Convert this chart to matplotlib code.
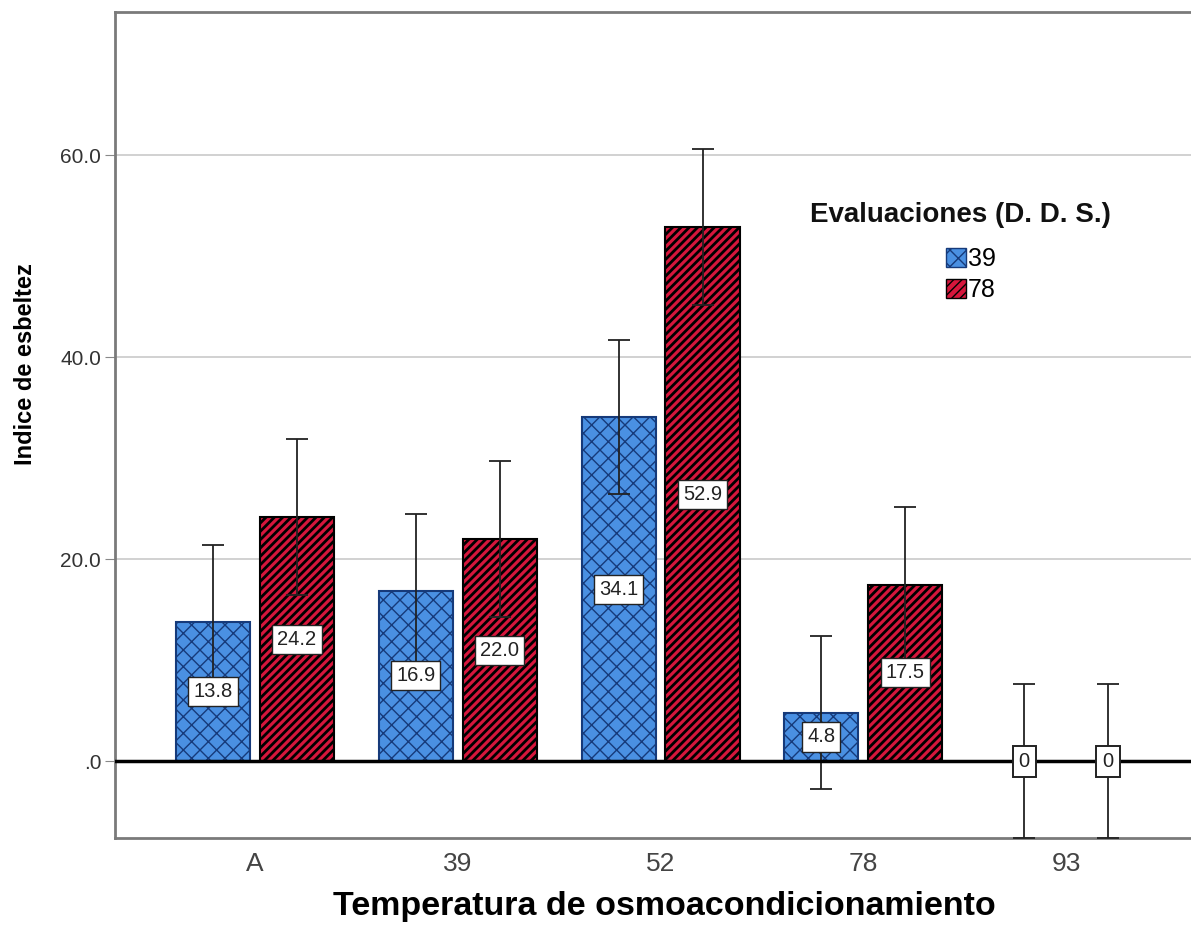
import matplotlib
matplotlib.use("Agg")
import matplotlib.pyplot as plt
import numpy as np
from matplotlib.patches import Patch

plt.rcParams['font.family'] = ['Liberation Sans', 'DejaVu Sans']

categories = ["A", "39", "52", "78", "93"]
series_names = ["39", "78"]
vals_39 = [13.8, 16.9, 34.1, 4.8, 0.0]
vals_78 = [24.2, 22.0, 52.9, 17.5, 0.0]
err_39 = [7.6, 7.6, 7.6, 7.6, 7.6]
err_78 = [7.7, 7.7, 7.7, 7.7, 7.6]
labels_39 = ["13.8", "16.9", "34.1", "4.8", "0"]
labels_78 = ["24.2", "22.0", "52.9", "17.5", "0"]
yticks = [0, 20, 40, 60]
ytick_labels = [".0", "20.0", "40.0", "60.0"]

fig = plt.figure(figsize=(11.91, 9.39), dpi=100)
ax = fig.add_axes([0.0966, 0.1076, 0.9034, 0.8796])

x = np.arange(len(categories))
w = 0.365
off = 0.207

blue_face = '#4A90E2'
blue_edge = '#163A7A'
red_face = '#D6163C'
red_edge = '#000000'
styles = [
    (vals_39, err_39, labels_39, -1, blue_face, blue_edge, 'xx', 1.0),
    (vals_78, err_78, labels_78, 1, red_face, red_edge, '////', 2.0),
]

ax.set_ylim(-7.6, 74.2)
ax.set_xlim(-0.69, 4.616)

for y in yticks[1:]:
    ax.axhline(y, color='#CACACA', lw=1.2, zorder=0)

for i in range(len(categories)):
    for vals, errs, labs, sign, fc, ec, hatch, hlw in styles:
        xi = x[i] + sign * off
        v = vals[i]
        if v > 0:
            with plt.rc_context({'hatch.linewidth': hlw}):
                ax.bar(xi, v, width=w, color=fc, edgecolor=ec, hatch=hatch, lw=1.5, zorder=2)
            ax.errorbar(xi, v, yerr=errs[i], fmt='none', ecolor='#222222', elinewidth=1.3,
                        capsize=8, capthick=1.3, zorder=3)
            ax.text(xi, v / 2, labs[i], ha='center', va='center', fontsize=14.5, color='#222222',
                    bbox=dict(boxstyle='square,pad=0.25', fc='white', ec='#222222', lw=1.0), zorder=5)
        else:
            ax.errorbar(xi, v, yerr=errs[i], fmt='none', ecolor='#222222', elinewidth=1.3,
                        capsize=8, capthick=1.3, zorder=3)
            ax.text(xi, v, labs[i], ha='center', va='center', fontsize=14.5, color='#222222',
                    bbox=dict(boxstyle='square,pad=0.3', fc='white', ec='#222222', lw=1.4), zorder=5)

ax.axhline(0, color='black', lw=2.5, zorder=4)

ax.set_yticks(yticks)
ax.set_yticklabels(ytick_labels, fontsize=15, color='#333333')
ax.set_xticks(x)
ax.set_xticklabels(categories, fontsize=19, color='#444444')
ax.tick_params(axis='x', length=0, pad=10)
ax.tick_params(axis='y', length=7, color='#888888', pad=3)

for s in ['left', 'top', 'bottom']:
    ax.spines[s].set_color('#7A7A7A')
    ax.spines[s].set_linewidth(2)
ax.spines['right'].set_visible(False)

ax.set_xlabel("Temperatura de osmoacondicionamiento", fontsize=24.5, fontweight='bold')
ax.xaxis.set_label_coords(0.511, -0.064)
ax.set_ylabel("Indice de esbeltez", fontsize=17, fontweight='bold')
ax.yaxis.set_label_coords(-0.073, 0.574)

ax.text(0.646, 0.754, "Evaluaciones (D. D. S.)", transform=ax.transAxes,
        fontsize=20, fontweight='bold', ha='left', va='center', color='#111111')

handles = []
for (vals, errs, labs, sign, fc, ec, hatch, hlw), name in zip(styles, series_names):
    with plt.rc_context({'hatch.linewidth': hlw}):
        handles.append(Patch(facecolor=fc, edgecolor=ec, hatch=hatch, label=name))
leg = ax.legend(handles=handles, frameon=False,
                loc='upper left', bbox_to_anchor=(0.772, 0.7155), fontsize=18,
                handlelength=0.8, handleheight=0.8, handletextpad=0.1, labelspacing=0.28,
                borderpad=0.0, borderaxespad=0.0)

fig.savefig("out.png", dpi=100)
